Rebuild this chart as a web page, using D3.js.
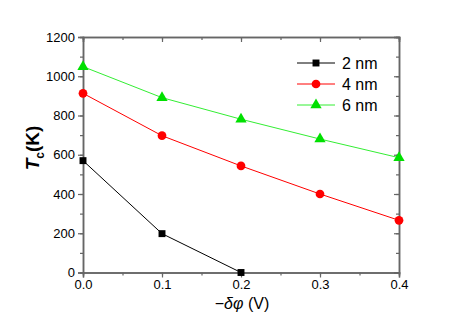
<!DOCTYPE html>
<html>
<head>
<meta charset="utf-8">
<script src="https://cdn.jsdelivr.net/npm/d3@7"></script>
<style>
  body { margin: 0; background: #fff; }
  svg { font-family: Arial, "Liberation Sans", sans-serif; }
</style>
</head>
<body>
<div id="chart"></div>
<script>
// data
const xValues = [0.0, 0.1, 0.2, 0.3, 0.4];
const series2nm = [570, 198, 0];
const series4nm = [913, 697, 543, 400, 266];
const series6nm = [1049, 891, 781, 680, 585];
const seriesNames = ["2 nm", "4 nm", "6 nm"];
const xTicks = [0.0, 0.1, 0.2, 0.3, 0.4];
const yTicks = [0, 200, 400, 600, 800, 1000, 1200];

const W = 463, H = 327;
const margin = { top: 37, right: 64, bottom: 55, left: 83 };
const width = 399 - margin.left;
const height = 272.5 - margin.top;

const svg = d3.select("#chart").append("svg")
  .attr("width", W).attr("height", H);

const g = svg.append("g").attr("transform", `translate(${margin.left},${margin.top})`);

const x = d3.scaleLinear().domain([0, 0.4]).range([0, width]);
const y = d3.scaleLinear().domain([0, 1200]).range([height, 0]);

const axisColor = "#666";

// minor ticks
const xMinor = d3.range(0, 0.4001, 0.05);
const yMinor = d3.range(0, 1200.1, 100);

function styleAxis(sel) {
  sel.selectAll("path").attr("stroke", axisColor).attr("stroke-width", 1.5);
  sel.selectAll("line").attr("stroke", axisColor).attr("stroke-width", 1.2);
  sel.selectAll("text").attr("fill", "#000").style("font-size", "13px");
}

// bottom
g.append("g").attr("transform", `translate(0,${height})`)
  .call(d3.axisBottom(x).tickValues(xMinor).tickSize(3).tickFormat(""))
  .call(styleAxis);
g.append("g").attr("transform", `translate(0,${height})`)
  .call(d3.axisBottom(x).tickValues(xTicks).tickSize(5).tickPadding(2).tickFormat(d3.format(".1f")))
  .call(styleAxis);
// left
g.append("g")
  .call(d3.axisLeft(y).tickValues(yMinor).tickSize(3).tickFormat(""))
  .call(styleAxis);
g.append("g")
  .call(d3.axisLeft(y).tickValues(yTicks).tickSize(5).tickPadding(3).tickFormat(d3.format("d")))
  .call(styleAxis);
// top (ticks inward)
g.append("g")
  .call(d3.axisTop(x).tickValues(xMinor).tickSize(-3).tickFormat(""))
  .call(styleAxis);
g.append("g")
  .call(d3.axisTop(x).tickValues(xTicks).tickSize(-5).tickFormat(""))
  .call(styleAxis);
// right (ticks inward)
g.append("g").attr("transform", `translate(${width},0)`)
  .call(d3.axisRight(y).tickValues(yMinor).tickSize(-3).tickFormat(""))
  .call(styleAxis);
g.append("g").attr("transform", `translate(${width},0)`)
  .call(d3.axisRight(y).tickValues(yTicks).tickSize(-5).tickFormat(""))
  .call(styleAxis);

const series = [
  { name: seriesNames[0], values: series2nm, line: "#000", fill: "#000", shape: d3.symbolSquare, size: 48 },
  { name: seriesNames[1], values: series4nm, line: "#ff0000", fill: "#ff0000", shape: d3.symbolCircle, size: 60 },
  { name: seriesNames[2], values: series6nm, line: "#33ee33", fill: "#00e000", shape: d3.symbolTriangle, size: 55 }
];

const line = d3.line().x((d, i) => x(xValues[i])).y(d => y(d));

series.forEach(s => {
  g.append("path").datum(s.values)
    .attr("fill", "none").attr("stroke", s.line).attr("stroke-width", 1).attr("d", line);
  g.selectAll(null).data(s.values).enter().append("path")
    .attr("transform", (d, i) => `translate(${x(xValues[i])},${y(d)})`)
    .attr("d", d3.symbol().type(s.shape).size(s.size))
    .attr("fill", s.fill);
});

// legend
const legend = svg.append("g").attr("transform", "translate(297,63)");
series.forEach((s, i) => {
  const row = legend.append("g").attr("transform", `translate(0,${i * 21})`);
  row.append("line").attr("x1", 0).attr("x2", 38).attr("y1", 0).attr("y2", 0)
    .attr("stroke", s.line).attr("stroke-width", 1);
  row.append("path").attr("transform", "translate(19,0)")
    .attr("d", d3.symbol().type(s.shape).size(s.size)).attr("fill", s.fill);
  row.append("text").attr("x", 45).attr("y", 6).style("font-size", "16px").text(s.name);
});

// axis titles
svg.append("text")
  .attr("x", 242).attr("y", 309)
  .attr("text-anchor", "middle").style("font-size", "16px")
  .html('−<tspan font-style="italic">δφ</tspan> (V)');

svg.append("text")
  .attr("transform", "translate(39,148) rotate(-90)")
  .attr("text-anchor", "middle").style("font-size", "19px").style("font-weight", "bold")
  .html('<tspan font-style="italic">T</tspan><tspan font-size="12px" dy="5">c</tspan><tspan dy="-5">(K)</tspan>');
</script>
</body>
</html>
